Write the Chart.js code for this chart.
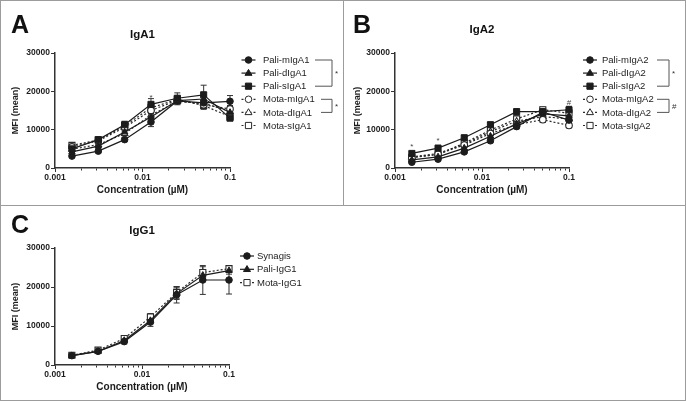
<!DOCTYPE html>
<html>
<head>
<meta charset="utf-8">
<title>MFI vs concentration</title>
<script src="https://cdn.jsdelivr.net/npm/chart.js@4"></script>
<style>
  body { margin: 0; background: #fff; }
  #fig { position: relative; width: 686px; height: 402px; overflow: hidden; background: #fff; }
  canvas { position: absolute; }
  .rule { position: absolute; background: #9c9c9c; }
</style>
</head>
<body>
<div id="fig">
  <canvas id="chartA" width="343" height="205" style="left:0;top:0"></canvas>
  <canvas id="chartB" width="342" height="205" style="left:344px;top:0"></canvas>
  <canvas id="chartC" width="343" height="194" style="left:0;top:206px"></canvas>
  <div class="rule" style="left:0;top:0;width:686px;height:1px"></div>
  <div class="rule" style="left:0;top:400px;width:686px;height:1px"></div>
  <div class="rule" style="left:0;top:0;width:1px;height:401px"></div>
  <div class="rule" style="left:685px;top:0;width:1px;height:401px"></div>
  <div class="rule" style="left:343px;top:0;width:1px;height:205px"></div>
  <div class="rule" style="left:0;top:205px;width:686px;height:1px"></div>
</div>

<script>
// concentration series (uM), twofold dilutions
var conc = [0.0015625, 0.003125, 0.00625, 0.0125, 0.025, 0.05, 0.1];

// panel A - IgA1
var paliMIgA1 = [3100, 4400, 7400, 12000, 17500, 17000, 17400];
var paliDIgA1 = [4200, 5700, 9400, 13300, 17600, 18000, 14500];
var paliSIgA1 = [5000, 7400, 11300, 16600, 18200, 19100, 13000];
var motaMIgA1 = [5500, 7100, 10600, 15000, 17700, 16500, 15400];
var motaDIgA1 = [4900, 6100, 9000, 13800, 17300, 16900, 14800];
var motaSIgA1 = [5900, 7300, 11000, 15700, 17900, 16300, 13400];
var paliMIgA1Err = [400, 400, 500, 1200, 800, 700, 1500];
var paliDIgA1Err = [400, 500, 600, 900, 900, 800, 800];
var paliSIgA1Err = [500, 600, 900, 1500, 1400, 2500, 600];
var motaMIgA1Err = [600, 500, 700, 900, 900, 1000, 900];
var motaDIgA1Err = [500, 500, 600, 800, 800, 900, 700];
var motaSIgA1Err = [700, 500, 800, 1000, 900, 1000, 700];

// panel B - IgA2
var paliMIgA2 = [1500, 2300, 4200, 7100, 10800, 14600, 12500];
var paliDIgA2 = [2100, 2900, 5200, 8300, 11500, 14100, 13600];
var paliSIgA2 = [3800, 5200, 7900, 11300, 14700, 14700, 15200];
var motaMIgA2 = [2700, 3600, 6000, 9000, 11300, 12600, 11100];
var motaDIgA2 = [2900, 3800, 6200, 9500, 12200, 13400, 12800];
var motaSIgA2 = [2800, 3500, 6500, 9900, 12800, 15200, 14300];
var paliMIgA2Err = [300, 300, 400, 500, 600, 700, 600];
var paliDIgA2Err = [300, 300, 400, 500, 600, 600, 700];
var paliSIgA2Err = [500, 500, 500, 600, 700, 600, 900];
var motaMIgA2Err = [400, 400, 500, 500, 700, 700, 500];
var motaDIgA2Err = [400, 400, 500, 600, 700, 700, 600];
var motaSIgA2Err = [400, 400, 500, 600, 800, 700, 1000];

// panel C - IgG1
var synagis  = [2400, 3500, 6000, 11000, 18000, 21800, 21800];
var paliIgG1 = [2400, 3500, 6300, 11400, 18300, 23000, 24200];
var motaIgG1 = [2500, 3800, 6800, 12300, 18600, 23700, 24700];
var synagisErr  = [400, 400, 600, 1100, 2100, 3700, 3600];
var paliIgG1Err = [300, 300, 500, 800, 1500, 1500, 900];
var motaIgG1Err = [400, 400, 600, 900, 1500, 1500, 700];

// significance marks placed above points (x = conc, y = MFI)
var marksA = [{ x: 0.0125, y: 18300, text: '*' }];
var marksB = [{ x: 0.0015625, y: 5500, text: '*' }, { x: 0.003125, y: 7200, text: '*' }, { x: 0.1, y: 17000, text: '#' }];

// axis ticks
var yTicks = [0, 10000, 20000, 30000];
var xTickLabels = ['0.001', '0.01', '0.1'];

var FONT = '"Liberation Sans", Arial, Helvetica, sans-serif';
var INK = '#1c1c1c';
Chart.defaults.font.family = FONT;
Chart.defaults.color = INK;

function isDecade(v) {
    return xTickLabels.some(function (l) { return Math.abs(parseFloat(l) - v) < v * 1e-6; });
}

function xMinorTicks() {
    var t = [];
    for (var e = -3; e < -1; e++) {
        for (var m = 1; m < 10; m++) t.push(parseFloat((m * Math.pow(10, e)).toPrecision(3)));
    }
    t.push(0.1);
    return t;
}

function pali(label, data, err, style, r) {
    return {
        label: label, data: conc.map(function (c, i) { return { x: c, y: data[i] }; }),
        errors: err, borderColor: INK, backgroundColor: INK, borderWidth: 1.2,
        pointStyle: style, pointRadius: r, pointBorderWidth: 1,
        pointBackgroundColor: INK, pointBorderColor: INK, fill: false, tension: 0, clip: false
    };
}

function mota(label, data, err, style, r) {
    return {
        label: label, data: conc.map(function (c, i) { return { x: c, y: data[i] }; }),
        errors: err, borderColor: '#2a2a2a', backgroundColor: '#fff', borderWidth: 1.2,
        borderDash: [2, 2], pointStyle: style, pointRadius: r, pointBorderWidth: 1.1,
        pointBackgroundColor: '#fff', pointBorderColor: '#2a2a2a', fill: false, tension: 0, clip: false
    };
}

function drawMarker(ctx, style, x, y, r, fill, stroke) {
    ctx.save();
    ctx.setLineDash([]);
    ctx.beginPath();
    if (style === 'circle') {
        ctx.arc(x, y, r, 0, Math.PI * 2);
    } else if (style === 'triangle') {
        ctx.moveTo(x, y - r);
        ctx.lineTo(x + r * 0.95, y + r * 0.6);
        ctx.lineTo(x - r * 0.95, y + r * 0.6);
        ctx.closePath();
    } else {
        var s = r * 0.72;
        ctx.rect(x - s, y - s, 2 * s, 2 * s);
    }
    ctx.fillStyle = fill;
    ctx.fill();
    ctx.lineWidth = 1;
    ctx.strokeStyle = stroke;
    ctx.stroke();
    ctx.restore();
}

// error bars, panel letter, title, legend with brackets, significance marks
var prismPlugin = {
    id: 'prism',
    beforeDatasetsDraw: function (chart) {
        var ctx = chart.ctx, xs = chart.scales.x, ys = chart.scales.y;
        ctx.save();
        ctx.strokeStyle = '#333';
        ctx.lineWidth = 1;
        chart.data.datasets.forEach(function (ds) {
            if (!ds.errors) return;
            ds.data.forEach(function (p, i) {
                var e = ds.errors[i];
                var px = xs.getPixelForValue(p.x);
                var top = ys.getPixelForValue(p.y + e), bot = ys.getPixelForValue(p.y - e);
                ctx.beginPath();
                ctx.moveTo(px, top); ctx.lineTo(px, bot);
                ctx.moveTo(px - 3, top); ctx.lineTo(px + 3, top);
                ctx.moveTo(px - 3, bot); ctx.lineTo(px + 3, bot);
                ctx.stroke();
            });
        });
        ctx.restore();
    },
    afterDraw: function (chart) {
        var o = chart.options.plugins.prism;
        if (!o) return;
        var ctx = chart.ctx, xs = chart.scales.x, ys = chart.scales.y;
        ctx.save();
        ctx.fillStyle = '#111';
        ctx.textAlign = 'left';
        ctx.textBaseline = 'alphabetic';
        ctx.font = 'bold 25px ' + FONT;
        ctx.fillText(o.letter, o.letterX, o.letterY);
        ctx.textAlign = 'center';
        ctx.font = 'bold 11.5px ' + FONT;
        ctx.fillText(o.title, (chart.chartArea.left + chart.chartArea.right) / 2, o.titleY);

        // legend rows from the datasets
        ctx.font = '9.5px ' + FONT;
        ctx.textAlign = 'left';
        ctx.textBaseline = 'middle';
        chart.data.datasets.forEach(function (ds, k) {
            var y = o.legY + k * o.legStep;
            ctx.save();
            ctx.strokeStyle = ds.borderColor;
            ctx.lineWidth = 1.2;
            ctx.setLineDash(ds.borderDash || []);
            ctx.beginPath();
            ctx.moveTo(o.legX - 7, y); ctx.lineTo(o.legX + 7, y);
            ctx.stroke();
            ctx.restore();
            drawMarker(ctx, ds.pointStyle, o.legX, y, ds.pointRadius, ds.pointBackgroundColor, ds.pointBorderColor);
            ctx.fillStyle = INK;
            ctx.fillText(ds.label, o.legTextX, y + 0.5);
        });

        // brackets
        (o.brackets || []).forEach(function (b) {
            var y1 = o.legY + b.from * o.legStep, y2 = o.legY + b.to * o.legStep;
            ctx.strokeStyle = '#555';
            ctx.lineWidth = 1;
            ctx.beginPath();
            ctx.moveTo(b.x1, y1); ctx.lineTo(b.x2, y1); ctx.lineTo(b.x2, y2); ctx.lineTo(b.x1, y2);
            ctx.stroke();
            ctx.fillStyle = '#333';
            ctx.font = '8px ' + FONT;
            ctx.fillText(b.sym, b.x2 + 3, (y1 + y2) / 2 + 1);
        });

        // significance marks over points
        ctx.textAlign = 'center';
        ctx.font = '8px ' + FONT;
        ctx.fillStyle = '#444';
        (o.marks || []).forEach(function (m) {
            ctx.fillText(m.text, xs.getPixelForValue(m.x), ys.getPixelForValue(m.y));
        });
        ctx.restore();
    }
};

function makeChart(id, datasets, box, deco) {
    var canvas = document.getElementById(id);
    var H = canvas.height;
    return new Chart(canvas.getContext('2d'), {
        type: 'line',
        data: { datasets: datasets },
        options: {
            responsive: false,
            animation: false,
            layout: { padding: { left: 0, top: box.top, right: canvas.width - box.right, bottom: 0 } },
            plugins: { legend: { display: false }, tooltip: { enabled: false }, prism: deco },
            scales: {
                x: {
                    type: 'logarithmic',
                    min: 0.001, max: 0.1,
                    afterFit: function (s) { s.height = H - box.bottom; },
                    afterBuildTicks: function (s) {
                        s.ticks = xMinorTicks().map(function (v) { return { value: v, major: isDecade(v) }; });
                    },
                    ticks: {
                        autoSkip: false, maxRotation: 0, padding: 1,
                        font: { size: 8.5, weight: 'bold' }, color: INK,
                        callback: function (v) {
                            for (var i = 0; i < xTickLabels.length; i++) {
                                if (Math.abs(parseFloat(xTickLabels[i]) - v) < v * 1e-6) return xTickLabels[i];
                            }
                            return '';
                        }
                    },
                    grid: {
                        drawOnChartArea: false, drawTicks: true, tickLength: 4,
                        tickColor: '#333', tickWidth: 1,
                        tickBorderDash: function (c) { return (c.tick && isDecade(c.tick.value)) ? [] : [2, 20]; }
                    },
                    border: { display: true, color: '#333', width: 1.5 },
                    title: {
                        display: true, text: 'Concentration (\u00b5M)',
                        font: { size: 10, weight: 'bold' }, color: INK,
                        padding: { top: 0, bottom: box.xTitlePad }
                    }
                },
                y: {
                    min: 0, max: 30000,
                    afterFit: function (s) { s.width = box.left; },
                    afterBuildTicks: function (s) { s.ticks = yTicks.map(function (v) { return { value: v }; }); },
                    ticks: {
                        padding: 1, font: { size: 8.5, weight: 'bold' }, color: INK,
                        callback: function (v) { return String(v); }
                    },
                    grid: { drawOnChartArea: false, drawTicks: true, tickLength: 4, tickColor: '#333' },
                    border: { display: true, color: '#333', width: 1.5 },
                    title: {
                        display: true, text: 'MFI (mean)',
                        font: { size: 9, weight: 'bold' }, color: INK,
                        padding: { top: box.yTitlePad, bottom: 0 }
                    }
                }
            }
        },
        plugins: [prismPlugin]
    });
}

makeChart('chartA', [
    pali('Pali-mIgA1', paliMIgA1, paliMIgA1Err, 'circle', 3.3),
    pali('Pali-dIgA1', paliDIgA1, paliDIgA1Err, 'triangle', 3.7),
    pali('Pali-sIgA1', paliSIgA1, paliSIgA1Err, 'rect', 4.3),
    mota('Mota-mIgA1', motaMIgA1, motaMIgA1Err, 'circle', 3.3),
    mota('Mota-dIgA1', motaDIgA1, motaDIgA1Err, 'triangle', 3.7),
    mota('Mota-sIgA1', motaSIgA1, motaSIgA1Err, 'rect', 4.3)
], { left: 55, right: 230, top: 53, bottom: 168, xTitlePad: 9, yTitlePad: 10 }, {
    letter: 'A', letterX: 11, letterY: 33, title: 'IgA1', titleY: 37.5,
    legX: 248.5, legTextX: 263, legY: 60, legStep: 13.1,
    brackets: [{ from: 0, to: 2, x1: 315, x2: 332, sym: '*' }, { from: 3, to: 4, x1: 321, x2: 332, sym: '*' }],
    marks: marksA
});

makeChart('chartB', [
    pali('Pali-mIgA2', paliMIgA2, paliMIgA2Err, 'circle', 3.3),
    pali('Pali-dIgA2', paliDIgA2, paliDIgA2Err, 'triangle', 3.7),
    pali('Pali-sIgA2', paliSIgA2, paliSIgA2Err, 'rect', 4.3),
    mota('Mota-mIgA2', motaMIgA2, motaMIgA2Err, 'circle', 3.3),
    mota('Mota-dIgA2', motaDIgA2, motaDIgA2Err, 'triangle', 3.7),
    mota('Mota-sIgA2', motaSIgA2, motaSIgA2Err, 'rect', 4.3)
], { left: 51, right: 225, top: 53, bottom: 168, xTitlePad: 9, yTitlePad: 8 }, {
    letter: 'B', letterX: 9, letterY: 33, title: 'IgA2', titleY: 32.5,
    legX: 246, legTextX: 258, legY: 60, legStep: 13.1,
    brackets: [{ from: 0, to: 2, x1: 313, x2: 325, sym: '*' }, { from: 3, to: 4, x1: 313, x2: 325, sym: '#' }],
    marks: marksB
});

makeChart('chartC', [
    pali('Synagis', synagis, synagisErr, 'circle', 3.3),
    pali('Pali-IgG1', paliIgG1, paliIgG1Err, 'triangle', 3.7),
    mota('Mota-IgG1', motaIgG1, motaIgG1Err, 'rect', 4.3)
], { left: 55, right: 229, top: 42, bottom: 159, xTitlePad: 7, yTitlePad: 10 }, {
    letter: 'C', letterX: 11, letterY: 27, title: 'IgG1', titleY: 28,
    legX: 247, legTextX: 257, legY: 50, legStep: 13.3,
    brackets: [], marks: []
});
</script>
</body>
</html>
